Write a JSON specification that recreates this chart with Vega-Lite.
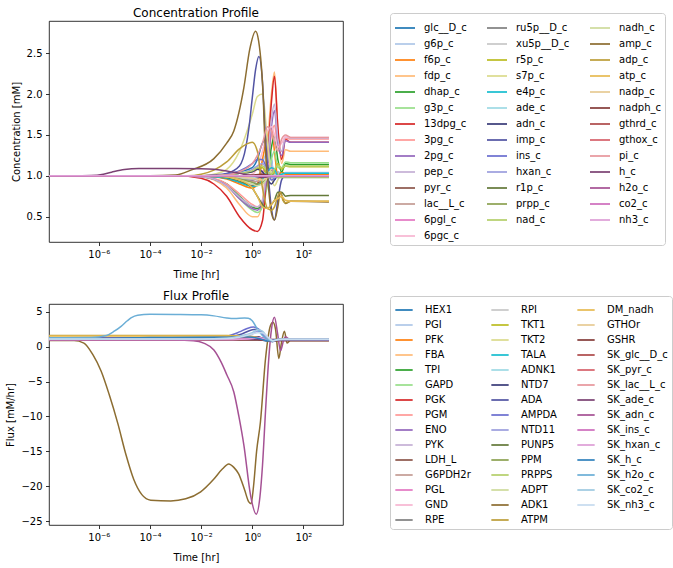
{
"$schema": "https://vega.github.io/schema/vega-lite/v6.json",
"background": "white",
"padding": {"left": 5, "top": 6, "right": 5, "bottom": 5},
"autosize": {"type": "pad"},
"config": {
  "font": "DejaVu Sans",
  "view": {"stroke": "black", "strokeWidth": 0.8},
  "axis": {"labelFont": "DejaVu Sans", "titleFont": "DejaVu Sans", "labelFontSize": 10, "titleFontSize": 10, "titleFontWeight": "normal", "labelColor": "black", "titleColor": "black", "tickColor": "black", "domain": false, "grid": false, "tickSize": 3.5, "tickWidth": 0.8, "labelPadding": 3.5, "titlePadding": 5},
  "axisX": {"titlePadding": 10},
  "title": {"font": "DejaVu Sans", "fontSize": 12, "fontWeight": "normal", "color": "black", "offset": -7},
  "legend": {"labelFont": "DejaVu Sans", "labelFontSize": 10, "labelColor": "black", "symbolType": "stroke", "symbolStrokeWidth": 2, "symbolOpacity": 0.85, "strokeColor": "#cccccc", "fillColor": "white", "cornerRadius": 3, "padding": 4, "symbolLimit": 100, "labelLimit": 0, "columnPadding": 16, "rowPadding": 0, "direction": "horizontal"}
},
"datasets": {
"conc": [
{"s":"glc__D_c","t":1.12e-8,"v":1},{"s":"glc__D_c","t":0.001,"v":1},{"s":"glc__D_c","t":0.01,"v":1},{"s":"glc__D_c","t":0.0316,"v":1},{"s":"glc__D_c","t":0.1,"v":1.02},{"s":"glc__D_c","t":0.316,"v":1.05},{"s":"glc__D_c","t":1,"v":1.1},{"s":"glc__D_c","t":1.585,"v":1.2},{"s":"glc__D_c","t":2.512,"v":1.4},{"s":"glc__D_c","t":3.981,"v":1.45},{"s":"glc__D_c","t":5.623,"v":1.2},{"s":"glc__D_c","t":7.413,"v":0.95},{"s":"glc__D_c","t":10,"v":1.05},{"s":"glc__D_c","t":14.13,"v":1},{"s":"glc__D_c","t":19.95,"v":1.03},{"s":"glc__D_c","t":31.62,"v":1.03},{"s":"glc__D_c","t":1000,"v":1.03},
{"s":"g6p_c","t":1.12e-8,"v":1},{"s":"g6p_c","t":0.001,"v":1},{"s":"g6p_c","t":0.01,"v":1},{"s":"g6p_c","t":0.0316,"v":0.99},{"s":"g6p_c","t":0.1,"v":0.97},{"s":"g6p_c","t":0.316,"v":0.93},{"s":"g6p_c","t":1,"v":0.9},{"s":"g6p_c","t":1.585,"v":0.95},{"s":"g6p_c","t":2.512,"v":1.15},{"s":"g6p_c","t":3.981,"v":1.3},{"s":"g6p_c","t":5.623,"v":1.2},{"s":"g6p_c","t":7.413,"v":1},{"s":"g6p_c","t":10,"v":1.05},{"s":"g6p_c","t":14.13,"v":1.02},{"s":"g6p_c","t":19.95,"v":1.04},{"s":"g6p_c","t":31.62,"v":1.04},{"s":"g6p_c","t":1000,"v":1.04},
{"s":"f6p_c","t":1.12e-8,"v":1},{"s":"f6p_c","t":0.001,"v":1},{"s":"f6p_c","t":0.01,"v":1},{"s":"f6p_c","t":0.0316,"v":0.99},{"s":"f6p_c","t":0.1,"v":0.96},{"s":"f6p_c","t":0.316,"v":0.9},{"s":"f6p_c","t":1,"v":0.85},{"s":"f6p_c","t":1.585,"v":0.9},{"s":"f6p_c","t":2.512,"v":1.2},{"s":"f6p_c","t":3.981,"v":1.5},{"s":"f6p_c","t":5.623,"v":1.6},{"s":"f6p_c","t":7.413,"v":1.3},{"s":"f6p_c","t":10,"v":1},{"s":"f6p_c","t":14.13,"v":1.05},{"s":"f6p_c","t":19.95,"v":1.02},{"s":"f6p_c","t":31.62,"v":1.02},{"s":"f6p_c","t":1000,"v":1.02},
{"s":"fdp_c","t":1.12e-8,"v":1},{"s":"fdp_c","t":0.001,"v":1},{"s":"fdp_c","t":0.01,"v":0.99},{"s":"fdp_c","t":0.0316,"v":0.95},{"s":"fdp_c","t":0.1,"v":0.85},{"s":"fdp_c","t":0.316,"v":0.65},{"s":"fdp_c","t":1,"v":0.5},{"s":"fdp_c","t":1.585,"v":0.5},{"s":"fdp_c","t":2.512,"v":0.7},{"s":"fdp_c","t":3.981,"v":1.4},{"s":"fdp_c","t":5.623,"v":2},{"s":"fdp_c","t":7.413,"v":2.27},{"s":"fdp_c","t":10,"v":1.6},{"s":"fdp_c","t":14.13,"v":1.15},{"s":"fdp_c","t":19.95,"v":1.32},{"s":"fdp_c","t":31.62,"v":1.3},{"s":"fdp_c","t":1000,"v":1.3},
{"s":"dhap_c","t":1.12e-8,"v":1},{"s":"dhap_c","t":0.001,"v":1},{"s":"dhap_c","t":0.01,"v":0.99},{"s":"dhap_c","t":0.0316,"v":0.96},{"s":"dhap_c","t":0.1,"v":0.9},{"s":"dhap_c","t":0.316,"v":0.75},{"s":"dhap_c","t":1,"v":0.62},{"s":"dhap_c","t":1.585,"v":0.6},{"s":"dhap_c","t":2.512,"v":0.68},{"s":"dhap_c","t":3.981,"v":1},{"s":"dhap_c","t":5.623,"v":1.35},{"s":"dhap_c","t":7.413,"v":1.49},{"s":"dhap_c","t":10,"v":1.2},{"s":"dhap_c","t":14.13,"v":1.05},{"s":"dhap_c","t":19.95,"v":1.15},{"s":"dhap_c","t":31.62,"v":1.14},{"s":"dhap_c","t":1000,"v":1.14},
{"s":"g3p_c","t":1.12e-8,"v":1},{"s":"g3p_c","t":0.001,"v":1},{"s":"g3p_c","t":0.01,"v":0.99},{"s":"g3p_c","t":0.0316,"v":0.96},{"s":"g3p_c","t":0.1,"v":0.88},{"s":"g3p_c","t":0.316,"v":0.72},{"s":"g3p_c","t":1,"v":0.58},{"s":"g3p_c","t":1.585,"v":0.55},{"s":"g3p_c","t":2.512,"v":0.62},{"s":"g3p_c","t":3.981,"v":0.9},{"s":"g3p_c","t":5.623,"v":1.2},{"s":"g3p_c","t":7.413,"v":1.3},{"s":"g3p_c","t":10,"v":1.1},{"s":"g3p_c","t":14.13,"v":1.1},{"s":"g3p_c","t":19.95,"v":1.17},{"s":"g3p_c","t":31.62,"v":1.16},{"s":"g3p_c","t":1000,"v":1.16},
{"s":"13dpg_c","t":1.12e-8,"v":1},{"s":"13dpg_c","t":0.001,"v":1},{"s":"13dpg_c","t":0.01,"v":0.97},{"s":"13dpg_c","t":0.0316,"v":0.9},{"s":"13dpg_c","t":0.1,"v":0.75},{"s":"13dpg_c","t":0.316,"v":0.5},{"s":"13dpg_c","t":1,"v":0.34},{"s":"13dpg_c","t":1.585,"v":0.32},{"s":"13dpg_c","t":2.512,"v":0.45},{"s":"13dpg_c","t":3.981,"v":1.2},{"s":"13dpg_c","t":5.623,"v":1.9},{"s":"13dpg_c","t":7.413,"v":2.22},{"s":"13dpg_c","t":10,"v":1.6},{"s":"13dpg_c","t":14.13,"v":1.2},{"s":"13dpg_c","t":19.95,"v":1.45},{"s":"13dpg_c","t":31.62,"v":1.41},{"s":"13dpg_c","t":1000,"v":1.41},
{"s":"3pg_c","t":1.12e-8,"v":1},{"s":"3pg_c","t":0.001,"v":1},{"s":"3pg_c","t":0.01,"v":0.99},{"s":"3pg_c","t":0.0316,"v":0.97},{"s":"3pg_c","t":0.1,"v":0.9},{"s":"3pg_c","t":0.316,"v":0.78},{"s":"3pg_c","t":1,"v":0.65},{"s":"3pg_c","t":1.585,"v":0.62},{"s":"3pg_c","t":2.512,"v":0.7},{"s":"3pg_c","t":3.981,"v":1.1},{"s":"3pg_c","t":5.623,"v":1.5},{"s":"3pg_c","t":7.413,"v":1.62},{"s":"3pg_c","t":10,"v":1.35},{"s":"3pg_c","t":14.13,"v":1.3},{"s":"3pg_c","t":19.95,"v":1.46},{"s":"3pg_c","t":31.62,"v":1.45},{"s":"3pg_c","t":1000,"v":1.45},
{"s":"2pg_c","t":1.12e-8,"v":1},{"s":"2pg_c","t":0.001,"v":1},{"s":"2pg_c","t":0.01,"v":0.99},{"s":"2pg_c","t":0.0316,"v":0.96},{"s":"2pg_c","t":0.1,"v":0.88},{"s":"2pg_c","t":0.316,"v":0.72},{"s":"2pg_c","t":1,"v":0.6},{"s":"2pg_c","t":1.585,"v":0.58},{"s":"2pg_c","t":2.512,"v":0.66},{"s":"2pg_c","t":3.981,"v":1.1},{"s":"2pg_c","t":5.623,"v":1.6},{"s":"2pg_c","t":7.413,"v":1.8},{"s":"2pg_c","t":10,"v":1.4},{"s":"2pg_c","t":14.13,"v":1.25},{"s":"2pg_c","t":19.95,"v":1.43},{"s":"2pg_c","t":31.62,"v":1.41},{"s":"2pg_c","t":1000,"v":1.41},
{"s":"pep_c","t":1.12e-8,"v":1},{"s":"pep_c","t":0.001,"v":1},{"s":"pep_c","t":0.01,"v":0.99},{"s":"pep_c","t":0.0316,"v":0.96},{"s":"pep_c","t":0.1,"v":0.88},{"s":"pep_c","t":0.316,"v":0.74},{"s":"pep_c","t":1,"v":0.63},{"s":"pep_c","t":1.585,"v":0.62},{"s":"pep_c","t":2.512,"v":0.7},{"s":"pep_c","t":3.981,"v":1.2},{"s":"pep_c","t":5.623,"v":1.7},{"s":"pep_c","t":7.413,"v":1.88},{"s":"pep_c","t":10,"v":1.45},{"s":"pep_c","t":14.13,"v":1.3},{"s":"pep_c","t":19.95,"v":1.48},{"s":"pep_c","t":31.62,"v":1.46},{"s":"pep_c","t":1000,"v":1.46},
{"s":"pyr_c","t":1.12e-8,"v":1},{"s":"pyr_c","t":0.001,"v":1},{"s":"pyr_c","t":0.01,"v":1},{"s":"pyr_c","t":0.0316,"v":0.99},{"s":"pyr_c","t":0.1,"v":0.97},{"s":"pyr_c","t":0.316,"v":0.92},{"s":"pyr_c","t":1,"v":0.88},{"s":"pyr_c","t":1.585,"v":0.9},{"s":"pyr_c","t":2.512,"v":0.98},{"s":"pyr_c","t":3.981,"v":1.1},{"s":"pyr_c","t":5.623,"v":1.05},{"s":"pyr_c","t":7.413,"v":1},{"s":"pyr_c","t":10,"v":0.98},{"s":"pyr_c","t":14.13,"v":1},{"s":"pyr_c","t":1000,"v":1},
{"s":"lac__L_c","t":1.12e-8,"v":1},{"s":"lac__L_c","t":0.001,"v":1},{"s":"lac__L_c","t":0.01,"v":1},{"s":"lac__L_c","t":0.0316,"v":0.99},{"s":"lac__L_c","t":0.1,"v":0.98},{"s":"lac__L_c","t":0.316,"v":0.95},{"s":"lac__L_c","t":1,"v":0.93},{"s":"lac__L_c","t":1.585,"v":0.93},{"s":"lac__L_c","t":2.512,"v":0.96},{"s":"lac__L_c","t":3.981,"v":1.02},{"s":"lac__L_c","t":5.623,"v":1.05},{"s":"lac__L_c","t":7.413,"v":1.03},{"s":"lac__L_c","t":10,"v":1},{"s":"lac__L_c","t":1000,"v":1},
{"s":"6pgl_c","t":1.12e-8,"v":1},{"s":"6pgl_c","t":0.01,"v":1},{"s":"6pgl_c","t":0.1,"v":0.99},{"s":"6pgl_c","t":0.316,"v":0.97},{"s":"6pgl_c","t":1,"v":0.95},{"s":"6pgl_c","t":1.585,"v":0.97},{"s":"6pgl_c","t":2.512,"v":1.05},{"s":"6pgl_c","t":3.981,"v":1.15},{"s":"6pgl_c","t":5.623,"v":1.1},{"s":"6pgl_c","t":7.413,"v":1.02},{"s":"6pgl_c","t":10,"v":1},{"s":"6pgl_c","t":1000,"v":1},
{"s":"6pgc_c","t":1.12e-8,"v":1},{"s":"6pgc_c","t":0.01,"v":1},{"s":"6pgc_c","t":0.316,"v":1},{"s":"6pgc_c","t":1,"v":1.02},{"s":"6pgc_c","t":1.585,"v":1.1},{"s":"6pgc_c","t":2.512,"v":1.3},{"s":"6pgc_c","t":3.981,"v":1.55},{"s":"6pgc_c","t":5.623,"v":1.6},{"s":"6pgc_c","t":7.413,"v":1.5},{"s":"6pgc_c","t":10,"v":1.35},{"s":"6pgc_c","t":14.13,"v":1.4},{"s":"6pgc_c","t":19.95,"v":1.48},{"s":"6pgc_c","t":31.62,"v":1.47},{"s":"6pgc_c","t":1000,"v":1.47},
{"s":"ru5p__D_c","t":1.12e-8,"v":1},{"s":"ru5p__D_c","t":0.01,"v":1},{"s":"ru5p__D_c","t":0.1,"v":0.99},{"s":"ru5p__D_c","t":0.316,"v":0.97},{"s":"ru5p__D_c","t":1,"v":0.95},{"s":"ru5p__D_c","t":1.585,"v":0.97},{"s":"ru5p__D_c","t":2.512,"v":1.02},{"s":"ru5p__D_c","t":3.981,"v":1.08},{"s":"ru5p__D_c","t":5.623,"v":1.06},{"s":"ru5p__D_c","t":7.413,"v":1.02},{"s":"ru5p__D_c","t":10,"v":1},{"s":"ru5p__D_c","t":1000,"v":1},
{"s":"xu5p__D_c","t":1.12e-8,"v":1},{"s":"xu5p__D_c","t":0.01,"v":1},{"s":"xu5p__D_c","t":0.1,"v":0.99},{"s":"xu5p__D_c","t":0.316,"v":0.97},{"s":"xu5p__D_c","t":1,"v":0.96},{"s":"xu5p__D_c","t":1.585,"v":0.98},{"s":"xu5p__D_c","t":2.512,"v":1.02},{"s":"xu5p__D_c","t":3.981,"v":1.06},{"s":"xu5p__D_c","t":5.623,"v":1.05},{"s":"xu5p__D_c","t":7.413,"v":1.02},{"s":"xu5p__D_c","t":10,"v":1},{"s":"xu5p__D_c","t":1000,"v":1},
{"s":"r5p_c","t":1.12e-8,"v":1},{"s":"r5p_c","t":0.01,"v":1},{"s":"r5p_c","t":0.1,"v":1.01},{"s":"r5p_c","t":0.316,"v":1.03},{"s":"r5p_c","t":1,"v":1.05},{"s":"r5p_c","t":1.585,"v":1.08},{"s":"r5p_c","t":2.512,"v":1.1},{"s":"r5p_c","t":3.981,"v":1},{"s":"r5p_c","t":5.623,"v":0.98},{"s":"r5p_c","t":7.413,"v":1.05},{"s":"r5p_c","t":10,"v":1.15},{"s":"r5p_c","t":14.13,"v":1.08},{"s":"r5p_c","t":19.95,"v":1.12},{"s":"r5p_c","t":31.62,"v":1.11},{"s":"r5p_c","t":1000,"v":1.11},
{"s":"s7p_c","t":1.12e-8,"v":1},{"s":"s7p_c","t":0.001,"v":1},{"s":"s7p_c","t":0.01,"v":1},{"s":"s7p_c","t":0.0316,"v":1.02},{"s":"s7p_c","t":0.1,"v":1.08},{"s":"s7p_c","t":0.316,"v":1.3},{"s":"s7p_c","t":1,"v":1.75},{"s":"s7p_c","t":1.585,"v":1.97},{"s":"s7p_c","t":2.512,"v":2},{"s":"s7p_c","t":3.981,"v":1.4},{"s":"s7p_c","t":5.623,"v":1},{"s":"s7p_c","t":7.413,"v":0.88},{"s":"s7p_c","t":10,"v":0.95},{"s":"s7p_c","t":14.13,"v":1.02},{"s":"s7p_c","t":19.95,"v":1},{"s":"s7p_c","t":1000,"v":1},
{"s":"e4p_c","t":1.12e-8,"v":1},{"s":"e4p_c","t":0.01,"v":1},{"s":"e4p_c","t":0.0316,"v":0.99},{"s":"e4p_c","t":0.1,"v":0.97},{"s":"e4p_c","t":0.316,"v":0.92},{"s":"e4p_c","t":1,"v":0.87},{"s":"e4p_c","t":1.585,"v":0.88},{"s":"e4p_c","t":2.512,"v":0.95},{"s":"e4p_c","t":3.981,"v":1.05},{"s":"e4p_c","t":5.623,"v":1.1},{"s":"e4p_c","t":7.413,"v":1.08},{"s":"e4p_c","t":10,"v":1},{"s":"e4p_c","t":14.13,"v":1.02},{"s":"e4p_c","t":19.95,"v":1.03},{"s":"e4p_c","t":1000,"v":1.03},
{"s":"ade_c","t":1.12e-8,"v":1},{"s":"ade_c","t":0.1,"v":1},{"s":"ade_c","t":0.316,"v":0.99},{"s":"ade_c","t":1,"v":0.98},{"s":"ade_c","t":2.512,"v":1},{"s":"ade_c","t":3.981,"v":1.02},{"s":"ade_c","t":7.413,"v":1.01},{"s":"ade_c","t":10,"v":1},{"s":"ade_c","t":1000,"v":1},
{"s":"adn_c","t":1.12e-8,"v":1},{"s":"adn_c","t":0.0316,"v":1},{"s":"adn_c","t":0.1,"v":1.01},{"s":"adn_c","t":0.316,"v":1.03},{"s":"adn_c","t":1,"v":1.05},{"s":"adn_c","t":1.585,"v":1.08},{"s":"adn_c","t":2.512,"v":1.05},{"s":"adn_c","t":3.981,"v":0.95},{"s":"adn_c","t":5.623,"v":0.9},{"s":"adn_c","t":7.413,"v":0.95},{"s":"adn_c","t":10,"v":1},{"s":"adn_c","t":1000,"v":1},
{"s":"imp_c","t":1.12e-8,"v":1},{"s":"imp_c","t":0.001,"v":1},{"s":"imp_c","t":0.01,"v":1},{"s":"imp_c","t":0.0316,"v":1.01},{"s":"imp_c","t":0.1,"v":1.03},{"s":"imp_c","t":0.316,"v":1.12},{"s":"imp_c","t":0.562,"v":1.35},{"s":"imp_c","t":0.75,"v":1.6},{"s":"imp_c","t":1,"v":1.95},{"s":"imp_c","t":1.35,"v":2.3},{"s":"imp_c","t":1.82,"v":2.46},{"s":"imp_c","t":2.512,"v":2.15},{"s":"imp_c","t":3.162,"v":1.55},{"s":"imp_c","t":4.365,"v":0.95},{"s":"imp_c","t":5.623,"v":0.6},{"s":"imp_c","t":7.413,"v":0.46},{"s":"imp_c","t":10,"v":0.7},{"s":"imp_c","t":14.13,"v":0.95},{"s":"imp_c","t":19.95,"v":1},{"s":"imp_c","t":1000,"v":1},
{"s":"ins_c","t":1.12e-8,"v":1},{"s":"ins_c","t":0.0316,"v":1},{"s":"ins_c","t":0.1,"v":1.02},{"s":"ins_c","t":0.316,"v":1.06},{"s":"ins_c","t":1,"v":1.15},{"s":"ins_c","t":1.585,"v":1.2},{"s":"ins_c","t":2.512,"v":1.2},{"s":"ins_c","t":3.981,"v":1.05},{"s":"ins_c","t":5.623,"v":0.95},{"s":"ins_c","t":7.413,"v":0.97},{"s":"ins_c","t":10,"v":1},{"s":"ins_c","t":1000,"v":1},
{"s":"hxan_c","t":1.12e-8,"v":1},{"s":"hxan_c","t":0.0316,"v":1},{"s":"hxan_c","t":0.1,"v":1.01},{"s":"hxan_c","t":0.316,"v":1.03},{"s":"hxan_c","t":1,"v":1.08},{"s":"hxan_c","t":1.585,"v":1.12},{"s":"hxan_c","t":2.512,"v":1.15},{"s":"hxan_c","t":3.981,"v":1.05},{"s":"hxan_c","t":5.623,"v":0.98},{"s":"hxan_c","t":7.413,"v":0.98},{"s":"hxan_c","t":10,"v":1},{"s":"hxan_c","t":1000,"v":1},
{"s":"r1p_c","t":1.12e-8,"v":1},{"s":"r1p_c","t":0.01,"v":1},{"s":"r1p_c","t":0.0316,"v":1},{"s":"r1p_c","t":0.1,"v":0.98},{"s":"r1p_c","t":0.316,"v":0.94},{"s":"r1p_c","t":1,"v":0.85},{"s":"r1p_c","t":1.585,"v":0.75},{"s":"r1p_c","t":2.512,"v":0.65},{"s":"r1p_c","t":3.981,"v":0.6},{"s":"r1p_c","t":5.623,"v":0.65},{"s":"r1p_c","t":7.413,"v":0.7},{"s":"r1p_c","t":10,"v":0.8},{"s":"r1p_c","t":14.13,"v":0.8},{"s":"r1p_c","t":19.95,"v":0.75},{"s":"r1p_c","t":31.62,"v":0.76},{"s":"r1p_c","t":1000,"v":0.76},
{"s":"prpp_c","t":1.12e-8,"v":1},{"s":"prpp_c","t":0.0316,"v":1},{"s":"prpp_c","t":0.1,"v":0.99},{"s":"prpp_c","t":0.316,"v":0.96},{"s":"prpp_c","t":1,"v":0.92},{"s":"prpp_c","t":1.585,"v":0.9},{"s":"prpp_c","t":2.512,"v":0.92},{"s":"prpp_c","t":3.981,"v":0.98},{"s":"prpp_c","t":5.623,"v":1.02},{"s":"prpp_c","t":7.413,"v":1},{"s":"prpp_c","t":10,"v":0.98},{"s":"prpp_c","t":1000,"v":0.98},
{"s":"nad_c","t":1.12e-8,"v":1},{"s":"nad_c","t":0.0316,"v":1},{"s":"nad_c","t":0.1,"v":1.01},{"s":"nad_c","t":0.316,"v":1.03},{"s":"nad_c","t":1,"v":1.06},{"s":"nad_c","t":1.585,"v":1.1},{"s":"nad_c","t":2.512,"v":1.12},{"s":"nad_c","t":3.981,"v":1.05},{"s":"nad_c","t":5.623,"v":1.02},{"s":"nad_c","t":7.413,"v":1.08},{"s":"nad_c","t":10,"v":1.13},{"s":"nad_c","t":14.13,"v":1.1},{"s":"nad_c","t":19.95,"v":1.12},{"s":"nad_c","t":1000,"v":1.12},
{"s":"nadh_c","t":1.12e-8,"v":1},{"s":"nadh_c","t":0.0316,"v":1},{"s":"nadh_c","t":0.1,"v":0.99},{"s":"nadh_c","t":0.316,"v":0.95},{"s":"nadh_c","t":1,"v":0.9},{"s":"nadh_c","t":1.585,"v":0.88},{"s":"nadh_c","t":2.512,"v":0.9},{"s":"nadh_c","t":3.981,"v":0.97},{"s":"nadh_c","t":5.623,"v":1},{"s":"nadh_c","t":10,"v":0.99},{"s":"nadh_c","t":1000,"v":0.99},
{"s":"amp_c","t":1.12e-8,"v":1},{"s":"amp_c","t":0.0001,"v":1},{"s":"amp_c","t":0.001,"v":1.01},{"s":"amp_c","t":0.004,"v":1.07},{"s":"amp_c","t":0.0316,"v":1.21},{"s":"amp_c","t":0.1,"v":1.4},{"s":"amp_c","t":0.19,"v":1.55},{"s":"amp_c","t":0.47,"v":2.08},{"s":"amp_c","t":0.8,"v":2.55},{"s":"amp_c","t":1.35,"v":2.77},{"s":"amp_c","t":1.78,"v":2.65},{"s":"amp_c","t":2.75,"v":1.88},{"s":"amp_c","t":3.0,"v":1.55},{"s":"amp_c","t":4.2,"v":0.9},{"s":"amp_c","t":5.6,"v":0.55},{"s":"amp_c","t":7.4,"v":0.46},{"s":"amp_c","t":10,"v":0.62},{"s":"amp_c","t":12.6,"v":0.8},{"s":"amp_c","t":15.8,"v":0.72},{"s":"amp_c","t":20,"v":0.66},{"s":"amp_c","t":31.62,"v":0.69},{"s":"amp_c","t":1000,"v":0.68},
{"s":"adp_c","t":1.12e-8,"v":1},{"s":"adp_c","t":0.003,"v":1},{"s":"adp_c","t":0.01,"v":1.02},{"s":"adp_c","t":0.0316,"v":1.07},{"s":"adp_c","t":0.1,"v":1.17},{"s":"adp_c","t":0.316,"v":1.33},{"s":"adp_c","t":1,"v":1.41},{"s":"adp_c","t":1.585,"v":1.3},{"s":"adp_c","t":2.512,"v":0.85},{"s":"adp_c","t":3.981,"v":0.6},{"s":"adp_c","t":5.623,"v":0.58},{"s":"adp_c","t":7.413,"v":0.62},{"s":"adp_c","t":10,"v":0.75},{"s":"adp_c","t":12.6,"v":0.8},{"s":"adp_c","t":15.8,"v":0.7},{"s":"adp_c","t":19.95,"v":0.67},{"s":"adp_c","t":31.62,"v":0.69},{"s":"adp_c","t":1000,"v":0.69},
{"s":"atp_c","t":1.12e-8,"v":1},{"s":"atp_c","t":0.01,"v":1},{"s":"atp_c","t":0.1,"v":0.99},{"s":"atp_c","t":0.316,"v":0.95},{"s":"atp_c","t":1,"v":0.85},{"s":"atp_c","t":1.585,"v":0.75},{"s":"atp_c","t":2.512,"v":0.62},{"s":"atp_c","t":3.981,"v":0.6},{"s":"atp_c","t":5.623,"v":0.65},{"s":"atp_c","t":7.413,"v":0.7},{"s":"atp_c","t":10,"v":0.72},{"s":"atp_c","t":14.13,"v":0.75},{"s":"atp_c","t":19.95,"v":0.7},{"s":"atp_c","t":31.62,"v":0.69},{"s":"atp_c","t":1000,"v":0.69},
{"s":"nadp_c","t":1.12e-8,"v":1},{"s":"nadp_c","t":0.1,"v":1},{"s":"nadp_c","t":0.316,"v":0.99},{"s":"nadp_c","t":1,"v":0.97},{"s":"nadp_c","t":2.512,"v":0.95},{"s":"nadp_c","t":3.981,"v":0.98},{"s":"nadp_c","t":5.623,"v":1},{"s":"nadp_c","t":1000,"v":1},
{"s":"nadph_c","t":1.12e-8,"v":1},{"s":"nadph_c","t":0.316,"v":1},{"s":"nadph_c","t":1,"v":1.01},{"s":"nadph_c","t":2.512,"v":1.02},{"s":"nadph_c","t":5.623,"v":1},{"s":"nadph_c","t":1000,"v":1},
{"s":"gthrd_c","t":1.12e-8,"v":1},{"s":"gthrd_c","t":1000,"v":1},
{"s":"gthox_c","t":1.12e-8,"v":1},{"s":"gthox_c","t":1000,"v":1},
{"s":"pi_c","t":1.12e-8,"v":1},{"s":"pi_c","t":0.01,"v":1},{"s":"pi_c","t":0.1,"v":1.01},{"s":"pi_c","t":0.316,"v":1.05},{"s":"pi_c","t":1,"v":1.15},{"s":"pi_c","t":1.585,"v":1.25},{"s":"pi_c","t":2.512,"v":1.4},{"s":"pi_c","t":3.981,"v":1.6},{"s":"pi_c","t":5.623,"v":1.55},{"s":"pi_c","t":7.413,"v":1.4},{"s":"pi_c","t":10,"v":1.3},{"s":"pi_c","t":14.13,"v":1.45},{"s":"pi_c","t":19.95,"v":1.5},{"s":"pi_c","t":31.62,"v":1.47},{"s":"pi_c","t":1000,"v":1.47},
{"s":"h_c","t":1.12e-8,"v":1},{"s":"h_c","t":1e-7,"v":1},{"s":"h_c","t":5e-7,"v":1.003},{"s":"h_c","t":1.5e-6,"v":1.02},{"s":"h_c","t":3.16e-6,"v":1.045},{"s":"h_c","t":1e-5,"v":1.078},{"s":"h_c","t":3.7e-5,"v":1.09},{"s":"h_c","t":0.001,"v":1.09},{"s":"h_c","t":0.01,"v":1.087},{"s":"h_c","t":0.0316,"v":1.08},{"s":"h_c","t":0.1,"v":1.06},{"s":"h_c","t":0.316,"v":1.03},{"s":"h_c","t":1,"v":1},{"s":"h_c","t":1.585,"v":0.99},{"s":"h_c","t":2.512,"v":0.98},{"s":"h_c","t":3.981,"v":0.99},{"s":"h_c","t":10,"v":1},{"s":"h_c","t":1000,"v":1},
{"s":"h2o_c","t":1.12e-8,"v":1},{"s":"h2o_c","t":1000,"v":1},
{"s":"co2_c","t":1.12e-8,"v":1},{"s":"co2_c","t":1000,"v":1},
{"s":"nh3_c","t":1.12e-8,"v":1},{"s":"nh3_c","t":1000,"v":1}
],
"flux": [
{"s":"HEX1","t":1.12e-8,"v":1.15},{"s":"HEX1","t":0.01,"v":1.15},{"s":"HEX1","t":0.1,"v":1.17},{"s":"HEX1","t":0.316,"v":1.2},{"s":"HEX1","t":1,"v":1.3},{"s":"HEX1","t":1.585,"v":1.25},{"s":"HEX1","t":2.512,"v":1.1},{"s":"HEX1","t":3.981,"v":0.95},{"s":"HEX1","t":6.31,"v":0.95},{"s":"HEX1","t":10,"v":1},{"s":"HEX1","t":1000,"v":1},
{"s":"PGI","t":1.12e-8,"v":1.1},{"s":"PGI","t":0.1,"v":1.1},{"s":"PGI","t":0.316,"v":1.12},{"s":"PGI","t":1,"v":1.2},{"s":"PGI","t":1.585,"v":1.2},{"s":"PGI","t":2.512,"v":1.1},{"s":"PGI","t":3.981,"v":0.95},{"s":"PGI","t":6.31,"v":0.95},{"s":"PGI","t":10,"v":1},{"s":"PGI","t":1000,"v":1},
{"s":"PFK","t":1.12e-8,"v":1.12},{"s":"PFK","t":0.1,"v":1.13},{"s":"PFK","t":0.316,"v":1.15},{"s":"PFK","t":1,"v":1.25},{"s":"PFK","t":1.585,"v":1.3},{"s":"PFK","t":2.512,"v":1.15},{"s":"PFK","t":3.981,"v":0.9},{"s":"PFK","t":6.31,"v":0.9},{"s":"PFK","t":10,"v":1.05},{"s":"PFK","t":15.85,"v":1},{"s":"PFK","t":1000,"v":1},
{"s":"FBA","t":1.12e-8,"v":1.12},{"s":"FBA","t":0.1,"v":1.13},{"s":"FBA","t":0.316,"v":1.15},{"s":"FBA","t":1,"v":1.25},{"s":"FBA","t":1.585,"v":1.3},{"s":"FBA","t":2.512,"v":1.15},{"s":"FBA","t":3.981,"v":0.9},{"s":"FBA","t":6.31,"v":0.9},{"s":"FBA","t":10,"v":1.05},{"s":"FBA","t":15.85,"v":1},{"s":"FBA","t":1000,"v":1},
{"s":"TPI","t":1.12e-8,"v":1.1},{"s":"TPI","t":0.316,"v":1.1},{"s":"TPI","t":1,"v":1.15},{"s":"TPI","t":1.585,"v":1.2},{"s":"TPI","t":2.512,"v":1.1},{"s":"TPI","t":3.981,"v":0.9},{"s":"TPI","t":6.31,"v":0.95},{"s":"TPI","t":10,"v":1.05},{"s":"TPI","t":15.85,"v":1},{"s":"TPI","t":1000,"v":1},
{"s":"GAPD","t":1.12e-8,"v":1.15},{"s":"GAPD","t":0.1,"v":1.15},{"s":"GAPD","t":0.316,"v":1.2},{"s":"GAPD","t":1,"v":1.3},{"s":"GAPD","t":1.585,"v":1.35},{"s":"GAPD","t":2.512,"v":1.2},{"s":"GAPD","t":3.981,"v":0.9},{"s":"GAPD","t":6.31,"v":0.85},{"s":"GAPD","t":10,"v":1},{"s":"GAPD","t":1000,"v":1},
{"s":"PGK","t":1.12e-8,"v":1.15},{"s":"PGK","t":0.1,"v":1.15},{"s":"PGK","t":0.316,"v":1.2},{"s":"PGK","t":1,"v":1.3},{"s":"PGK","t":1.585,"v":1.35},{"s":"PGK","t":2.512,"v":1.2},{"s":"PGK","t":3.981,"v":0.9},{"s":"PGK","t":6.31,"v":0.85},{"s":"PGK","t":10,"v":1},{"s":"PGK","t":1000,"v":1},
{"s":"PGM","t":1.12e-8,"v":1.15},{"s":"PGM","t":0.1,"v":1.15},{"s":"PGM","t":0.316,"v":1.18},{"s":"PGM","t":1,"v":1.28},{"s":"PGM","t":1.585,"v":1.32},{"s":"PGM","t":2.512,"v":1.18},{"s":"PGM","t":3.981,"v":0.9},{"s":"PGM","t":6.31,"v":0.85},{"s":"PGM","t":10,"v":1},{"s":"PGM","t":1000,"v":1},
{"s":"ENO","t":1.12e-8,"v":1.15},{"s":"ENO","t":0.1,"v":1.15},{"s":"ENO","t":0.316,"v":1.18},{"s":"ENO","t":1,"v":1.28},{"s":"ENO","t":1.585,"v":1.32},{"s":"ENO","t":2.512,"v":1.18},{"s":"ENO","t":3.981,"v":0.9},{"s":"ENO","t":6.31,"v":0.85},{"s":"ENO","t":10,"v":1},{"s":"ENO","t":1000,"v":1},
{"s":"PYK","t":1.12e-8,"v":1.15},{"s":"PYK","t":0.1,"v":1.15},{"s":"PYK","t":0.316,"v":1.18},{"s":"PYK","t":1,"v":1.25},{"s":"PYK","t":1.585,"v":1.3},{"s":"PYK","t":2.512,"v":1.15},{"s":"PYK","t":3.981,"v":0.9},{"s":"PYK","t":6.31,"v":0.85},{"s":"PYK","t":10,"v":1},{"s":"PYK","t":1000,"v":1},
{"s":"LDH_L","t":1.12e-8,"v":1.1},{"s":"LDH_L","t":0.1,"v":1.1},{"s":"LDH_L","t":0.316,"v":1.12},{"s":"LDH_L","t":1,"v":1.2},{"s":"LDH_L","t":1.585,"v":1.25},{"s":"LDH_L","t":2.512,"v":1.1},{"s":"LDH_L","t":3.981,"v":0.9},{"s":"LDH_L","t":6.31,"v":0.85},{"s":"LDH_L","t":10,"v":1},{"s":"LDH_L","t":1000,"v":1},
{"s":"G6PDH2r","t":1.12e-8,"v":1.05},{"s":"G6PDH2r","t":1.585,"v":1.05},{"s":"G6PDH2r","t":2.512,"v":1},{"s":"G6PDH2r","t":3.981,"v":0.95},{"s":"G6PDH2r","t":6.31,"v":0.95},{"s":"G6PDH2r","t":10,"v":1},{"s":"G6PDH2r","t":1000,"v":1},
{"s":"PGL","t":1.12e-8,"v":1.05},{"s":"PGL","t":1.585,"v":1.05},{"s":"PGL","t":2.512,"v":1},{"s":"PGL","t":3.981,"v":0.95},{"s":"PGL","t":6.31,"v":0.95},{"s":"PGL","t":10,"v":1},{"s":"PGL","t":1000,"v":1},
{"s":"GND","t":1.12e-8,"v":1.05},{"s":"GND","t":1.585,"v":1.05},{"s":"GND","t":2.512,"v":1},{"s":"GND","t":3.981,"v":0.95},{"s":"GND","t":6.31,"v":0.95},{"s":"GND","t":10,"v":1},{"s":"GND","t":1000,"v":1},
{"s":"RPE","t":1.12e-8,"v":1},{"s":"RPE","t":0.316,"v":1},{"s":"RPE","t":1,"v":1.02},{"s":"RPE","t":1.585,"v":1.02},{"s":"RPE","t":2.512,"v":1},{"s":"RPE","t":3.981,"v":0.95},{"s":"RPE","t":6.31,"v":0.95},{"s":"RPE","t":10,"v":1},{"s":"RPE","t":1000,"v":1},
{"s":"RPI","t":1.12e-8,"v":1.02},{"s":"RPI","t":0.316,"v":1.02},{"s":"RPI","t":1,"v":1.03},{"s":"RPI","t":1.585,"v":1.03},{"s":"RPI","t":2.512,"v":1},{"s":"RPI","t":3.981,"v":0.95},{"s":"RPI","t":6.31,"v":0.95},{"s":"RPI","t":10,"v":1},{"s":"RPI","t":1000,"v":1},
{"s":"TKT1","t":1.12e-8,"v":1},{"s":"TKT1","t":0.316,"v":1},{"s":"TKT1","t":1,"v":1.02},{"s":"TKT1","t":1.585,"v":1.02},{"s":"TKT1","t":2.512,"v":1},{"s":"TKT1","t":3.981,"v":0.95},{"s":"TKT1","t":6.31,"v":0.95},{"s":"TKT1","t":10,"v":1},{"s":"TKT1","t":1000,"v":1},
{"s":"TKT2","t":1.12e-8,"v":1},{"s":"TKT2","t":0.316,"v":1},{"s":"TKT2","t":1,"v":1.02},{"s":"TKT2","t":1.585,"v":1.02},{"s":"TKT2","t":2.512,"v":1},{"s":"TKT2","t":3.981,"v":0.95},{"s":"TKT2","t":6.31,"v":0.95},{"s":"TKT2","t":10,"v":1},{"s":"TKT2","t":1000,"v":1},
{"s":"TALA","t":1.12e-8,"v":1},{"s":"TALA","t":0.316,"v":1},{"s":"TALA","t":1,"v":1.02},{"s":"TALA","t":1.585,"v":1.02},{"s":"TALA","t":2.512,"v":1},{"s":"TALA","t":3.981,"v":0.95},{"s":"TALA","t":6.31,"v":0.95},{"s":"TALA","t":10,"v":1},{"s":"TALA","t":1000,"v":1},
{"s":"ADNK1","t":1.12e-8,"v":1},{"s":"ADNK1","t":0.1,"v":1},{"s":"ADNK1","t":0.316,"v":1.05},{"s":"ADNK1","t":1,"v":1.1},{"s":"ADNK1","t":1.585,"v":1},{"s":"ADNK1","t":2.512,"v":0.9},{"s":"ADNK1","t":3.981,"v":0.85},{"s":"ADNK1","t":6.31,"v":0.85},{"s":"ADNK1","t":10,"v":0.9},{"s":"ADNK1","t":1000,"v":0.9},
{"s":"NTD7","t":1.12e-8,"v":1},{"s":"NTD7","t":0.01,"v":1},{"s":"NTD7","t":0.1,"v":1.02},{"s":"NTD7","t":0.316,"v":1.1},{"s":"NTD7","t":1,"v":1.3},{"s":"NTD7","t":1.585,"v":1.4},{"s":"NTD7","t":2.512,"v":1.2},{"s":"NTD7","t":3.981,"v":0.9},{"s":"NTD7","t":6.31,"v":0.85},{"s":"NTD7","t":10,"v":0.95},{"s":"NTD7","t":1000,"v":0.95},
{"s":"ADA","t":1.12e-8,"v":1.1},{"s":"ADA","t":0.01,"v":1.12},{"s":"ADA","t":0.1,"v":1.3},{"s":"ADA","t":0.316,"v":1.7},{"s":"ADA","t":1,"v":2.4},{"s":"ADA","t":1.585,"v":2.5},{"s":"ADA","t":2.512,"v":1.8},{"s":"ADA","t":3.981,"v":1},{"s":"ADA","t":6.31,"v":0.7},{"s":"ADA","t":10,"v":1},{"s":"ADA","t":1000,"v":1},
{"s":"AMPDA","t":1.12e-8,"v":1.25},{"s":"AMPDA","t":0.01,"v":1.3},{"s":"AMPDA","t":0.1,"v":1.5},{"s":"AMPDA","t":0.316,"v":2.1},{"s":"AMPDA","t":0.631,"v":2.6},{"s":"AMPDA","t":1.122,"v":2.8},{"s":"AMPDA","t":1.778,"v":2.5},{"s":"AMPDA","t":2.512,"v":1.9},{"s":"AMPDA","t":3.981,"v":1.1},{"s":"AMPDA","t":5.623,"v":0.75},{"s":"AMPDA","t":7.943,"v":0.8},{"s":"AMPDA","t":12.6,"v":0.95},{"s":"AMPDA","t":1000,"v":0.95},
{"s":"NTD11","t":1.12e-8,"v":1.05},{"s":"NTD11","t":0.01,"v":1.05},{"s":"NTD11","t":0.1,"v":1.1},{"s":"NTD11","t":0.316,"v":1.3},{"s":"NTD11","t":1,"v":1.8},{"s":"NTD11","t":1.585,"v":2.2},{"s":"NTD11","t":2.512,"v":1.9},{"s":"NTD11","t":3.981,"v":1.1},{"s":"NTD11","t":6.31,"v":0.75},{"s":"NTD11","t":10,"v":0.95},{"s":"NTD11","t":15.85,"v":1},{"s":"NTD11","t":1000,"v":1},
{"s":"PUNP5","t":1.12e-8,"v":1},{"s":"PUNP5","t":0.1,"v":1},{"s":"PUNP5","t":0.316,"v":1.05},{"s":"PUNP5","t":1,"v":1.15},{"s":"PUNP5","t":1.585,"v":1.2},{"s":"PUNP5","t":2.512,"v":1.1},{"s":"PUNP5","t":3.981,"v":0.95},{"s":"PUNP5","t":6.31,"v":0.9},{"s":"PUNP5","t":10,"v":0.95},{"s":"PUNP5","t":1000,"v":0.95},
{"s":"PPM","t":1.12e-8,"v":1},{"s":"PPM","t":0.1,"v":1},{"s":"PPM","t":0.316,"v":1.05},{"s":"PPM","t":1,"v":1.15},{"s":"PPM","t":1.585,"v":1.2},{"s":"PPM","t":2.512,"v":1.1},{"s":"PPM","t":3.981,"v":0.95},{"s":"PPM","t":6.31,"v":0.9},{"s":"PPM","t":10,"v":0.95},{"s":"PPM","t":1000,"v":0.95},
{"s":"PRPPS","t":1.12e-8,"v":1},{"s":"PRPPS","t":1.585,"v":1},{"s":"PRPPS","t":2.512,"v":0.98},{"s":"PRPPS","t":3.981,"v":0.95},{"s":"PRPPS","t":6.31,"v":0.95},{"s":"PRPPS","t":10,"v":0.98},{"s":"PRPPS","t":1000,"v":0.98},
{"s":"ADPT","t":1.12e-8,"v":1},{"s":"ADPT","t":0.316,"v":1},{"s":"ADPT","t":1,"v":0.98},{"s":"ADPT","t":2.512,"v":0.95},{"s":"ADPT","t":6.31,"v":0.95},{"s":"ADPT","t":10,"v":0.98},{"s":"ADPT","t":1000,"v":0.98},
{"s":"ADK1","t":1.12e-8,"v":0.86},{"s":"ADK1","t":1.07e-7,"v":0.86},{"s":"ADK1","t":2.6e-7,"v":0.5},{"s":"ADK1","t":5.9e-7,"v":-1.2},{"s":"ADK1","t":1.22e-6,"v":-3.5},{"s":"ADK1","t":2.5e-6,"v":-6.8},{"s":"ADK1","t":5.5e-6,"v":-11},{"s":"ADK1","t":1.15e-5,"v":-15.5},{"s":"ADK1","t":2.3e-5,"v":-19},{"s":"ADK1","t":4.8e-5,"v":-21.2},{"s":"ADK1","t":0.000107,"v":-22},{"s":"ADK1","t":0.00065,"v":-22.1},{"s":"ADK1","t":0.0025,"v":-21.8},{"s":"ADK1","t":0.0096,"v":-20.8},{"s":"ADK1","t":0.031,"v":-19},{"s":"ADK1","t":0.069,"v":-17.5},{"s":"ADK1","t":0.12,"v":-16.8},{"s":"ADK1","t":0.19,"v":-17.3},{"s":"ADK1","t":0.29,"v":-18.2},{"s":"ADK1","t":0.5,"v":-20.5},{"s":"ADK1","t":0.72,"v":-22.2},{"s":"ADK1","t":0.9,"v":-22.5},{"s":"ADK1","t":1.122,"v":-20},{"s":"ADK1","t":1.479,"v":-15},{"s":"ADK1","t":2.089,"v":-10.8},{"s":"ADK1","t":3.311,"v":-1.7},{"s":"ADK1","t":5.129,"v":3},{"s":"ADK1","t":6.457,"v":3.5},{"s":"ADK1","t":8.128,"v":2.5},{"s":"ADK1","t":10.96,"v":-1.7},{"s":"ADK1","t":13.8,"v":0.5},{"s":"ADK1","t":18.2,"v":2.2},{"s":"ADK1","t":22.9,"v":0.5},{"s":"ADK1","t":30.9,"v":0.86},{"s":"ADK1","t":1000,"v":0.86},
{"s":"ATPM","t":1.12e-8,"v":1.6},{"s":"ATPM","t":0.1,"v":1.6},{"s":"ATPM","t":0.316,"v":1.55},{"s":"ATPM","t":1,"v":1.45},{"s":"ATPM","t":1.585,"v":1.3},{"s":"ATPM","t":2.512,"v":1.1},{"s":"ATPM","t":3.981,"v":0.95},{"s":"ATPM","t":6.31,"v":0.9},{"s":"ATPM","t":10,"v":0.95},{"s":"ATPM","t":1000,"v":0.95},
{"s":"DM_nadh","t":1.12e-8,"v":1.5},{"s":"DM_nadh","t":0.1,"v":1.5},{"s":"DM_nadh","t":0.316,"v":1.48},{"s":"DM_nadh","t":1,"v":1.4},{"s":"DM_nadh","t":1.585,"v":1.3},{"s":"DM_nadh","t":2.512,"v":1.1},{"s":"DM_nadh","t":3.981,"v":0.95},{"s":"DM_nadh","t":6.31,"v":0.95},{"s":"DM_nadh","t":10,"v":1},{"s":"DM_nadh","t":1000,"v":1},
{"s":"GTHOr","t":1.12e-8,"v":1},{"s":"GTHOr","t":1000,"v":1},
{"s":"GSHR","t":1.12e-8,"v":0.95},{"s":"GSHR","t":1.585,"v":0.95},{"s":"GSHR","t":2.512,"v":0.9},{"s":"GSHR","t":3.981,"v":0.85},{"s":"GSHR","t":1000,"v":0.85},
{"s":"SK_glc__D_c","t":1.12e-8,"v":1.15},{"s":"SK_glc__D_c","t":0.01,"v":1.15},{"s":"SK_glc__D_c","t":0.1,"v":1.17},{"s":"SK_glc__D_c","t":0.316,"v":1.2},{"s":"SK_glc__D_c","t":1,"v":1.3},{"s":"SK_glc__D_c","t":1.585,"v":1.25},{"s":"SK_glc__D_c","t":2.512,"v":1.1},{"s":"SK_glc__D_c","t":3.981,"v":0.95},{"s":"SK_glc__D_c","t":6.31,"v":0.95},{"s":"SK_glc__D_c","t":10,"v":1},{"s":"SK_glc__D_c","t":1000,"v":1},
{"s":"SK_pyr_c","t":1.12e-8,"v":1},{"s":"SK_pyr_c","t":0.316,"v":1},{"s":"SK_pyr_c","t":1,"v":1.05},{"s":"SK_pyr_c","t":1.585,"v":1.05},{"s":"SK_pyr_c","t":2.512,"v":1},{"s":"SK_pyr_c","t":3.981,"v":0.9},{"s":"SK_pyr_c","t":6.31,"v":0.9},{"s":"SK_pyr_c","t":10,"v":1},{"s":"SK_pyr_c","t":1000,"v":1},
{"s":"SK_lac__L_c","t":1.12e-8,"v":1.1},{"s":"SK_lac__L_c","t":0.1,"v":1.1},{"s":"SK_lac__L_c","t":0.316,"v":1.12},{"s":"SK_lac__L_c","t":1,"v":1.2},{"s":"SK_lac__L_c","t":1.585,"v":1.25},{"s":"SK_lac__L_c","t":2.512,"v":1.1},{"s":"SK_lac__L_c","t":3.981,"v":0.9},{"s":"SK_lac__L_c","t":6.31,"v":0.85},{"s":"SK_lac__L_c","t":10,"v":1},{"s":"SK_lac__L_c","t":1000,"v":1},
{"s":"SK_ade_c","t":1.12e-8,"v":1},{"s":"SK_ade_c","t":1000,"v":1},
{"s":"SK_adn_c","t":1.12e-8,"v":0.95},{"s":"SK_adn_c","t":0.001,"v":0.95},{"s":"SK_adn_c","t":0.005,"v":0.85},{"s":"SK_adn_c","t":0.0126,"v":0.5},{"s":"SK_adn_c","t":0.0316,"v":-0.5},{"s":"SK_adn_c","t":0.06,"v":-2.2},{"s":"SK_adn_c","t":0.1,"v":-4},{"s":"SK_adn_c","t":0.19,"v":-6.5},{"s":"SK_adn_c","t":0.3,"v":-10},{"s":"SK_adn_c","t":0.47,"v":-14.1},{"s":"SK_adn_c","t":0.86,"v":-21.3},{"s":"SK_adn_c","t":1.43,"v":-24},{"s":"SK_adn_c","t":2.0,"v":-21.5},{"s":"SK_adn_c","t":2.52,"v":-17},{"s":"SK_adn_c","t":3.3,"v":-9.3},{"s":"SK_adn_c","t":4.33,"v":-2.2},{"s":"SK_adn_c","t":5.65,"v":2.5},{"s":"SK_adn_c","t":7.4,"v":4.2},{"s":"SK_adn_c","t":9.7,"v":2},{"s":"SK_adn_c","t":12.7,"v":-0.6},{"s":"SK_adn_c","t":16.6,"v":0.8},{"s":"SK_adn_c","t":20,"v":1.4},{"s":"SK_adn_c","t":31,"v":1},{"s":"SK_adn_c","t":1000,"v":0.95},
{"s":"SK_ins_c","t":1.12e-8,"v":1},{"s":"SK_ins_c","t":0.1,"v":1},{"s":"SK_ins_c","t":0.316,"v":1.05},{"s":"SK_ins_c","t":1,"v":1.2},{"s":"SK_ins_c","t":1.585,"v":1.3},{"s":"SK_ins_c","t":2.512,"v":1.2},{"s":"SK_ins_c","t":3.981,"v":1},{"s":"SK_ins_c","t":6.31,"v":0.9},{"s":"SK_ins_c","t":10,"v":1},{"s":"SK_ins_c","t":1000,"v":1},
{"s":"SK_hxan_c","t":1.12e-8,"v":1},{"s":"SK_hxan_c","t":0.1,"v":1},{"s":"SK_hxan_c","t":0.316,"v":1.04},{"s":"SK_hxan_c","t":1,"v":1.15},{"s":"SK_hxan_c","t":1.585,"v":1.25},{"s":"SK_hxan_c","t":2.512,"v":1.2},{"s":"SK_hxan_c","t":3.981,"v":1.05},{"s":"SK_hxan_c","t":6.31,"v":0.9},{"s":"SK_hxan_c","t":10,"v":1},{"s":"SK_hxan_c","t":1000,"v":1},
{"s":"SK_h_c","t":1.12e-8,"v":1.15},{"s":"SK_h_c","t":1e-6,"v":1.15},{"s":"SK_h_c","t":1e-5,"v":1.22},{"s":"SK_h_c","t":0.0001,"v":1.3},{"s":"SK_h_c","t":0.01,"v":1.33},{"s":"SK_h_c","t":0.1,"v":1.35},{"s":"SK_h_c","t":0.5,"v":1.4},{"s":"SK_h_c","t":1,"v":1.35},{"s":"SK_h_c","t":2.512,"v":1},{"s":"SK_h_c","t":3.981,"v":0.8},{"s":"SK_h_c","t":6.31,"v":0.9},{"s":"SK_h_c","t":10,"v":1},{"s":"SK_h_c","t":1000,"v":1},
{"s":"SK_h2o_c","t":1.12e-8,"v":1.25},{"s":"SK_h2o_c","t":5e-7,"v":1.3},{"s":"SK_h2o_c","t":2e-6,"v":1.6},{"s":"SK_h2o_c","t":4e-6,"v":2.2},{"s":"SK_h2o_c","t":7.4e-6,"v":2.9},{"s":"SK_h2o_c","t":1.3e-5,"v":3.7},{"s":"SK_h2o_c","t":1.8e-5,"v":4.1},{"s":"SK_h2o_c","t":3.3e-5,"v":4.5},{"s":"SK_h2o_c","t":0.0001,"v":4.62},{"s":"SK_h2o_c","t":0.001,"v":4.6},{"s":"SK_h2o_c","t":0.01,"v":4.55},{"s":"SK_h2o_c","t":0.0316,"v":4.4},{"s":"SK_h2o_c","t":0.1,"v":4.1},{"s":"SK_h2o_c","t":0.2,"v":4.02},{"s":"SK_h2o_c","t":0.5,"v":4.08},{"s":"SK_h2o_c","t":0.7,"v":4.05},{"s":"SK_h2o_c","t":1,"v":3.7},{"s":"SK_h2o_c","t":1.6,"v":2.5},{"s":"SK_h2o_c","t":2.5,"v":1.6},{"s":"SK_h2o_c","t":3.98,"v":1},{"s":"SK_h2o_c","t":6.3,"v":0.8},{"s":"SK_h2o_c","t":10,"v":1},{"s":"SK_h2o_c","t":1000,"v":1},
{"s":"SK_co2_c","t":1.12e-8,"v":1.1},{"s":"SK_co2_c","t":0.01,"v":1.1},{"s":"SK_co2_c","t":0.1,"v":1.2},{"s":"SK_co2_c","t":0.316,"v":1.5},{"s":"SK_co2_c","t":1,"v":2},{"s":"SK_co2_c","t":1.585,"v":2.4},{"s":"SK_co2_c","t":2.512,"v":2.2},{"s":"SK_co2_c","t":3.981,"v":1.3},{"s":"SK_co2_c","t":6.31,"v":0.8},{"s":"SK_co2_c","t":10,"v":1},{"s":"SK_co2_c","t":15.85,"v":1.05},{"s":"SK_co2_c","t":1000,"v":1.05},
{"s":"SK_nh3_c","t":1.12e-8,"v":1.1},{"s":"SK_nh3_c","t":0.01,"v":1.1},{"s":"SK_nh3_c","t":0.1,"v":1.15},{"s":"SK_nh3_c","t":0.316,"v":1.35},{"s":"SK_nh3_c","t":1,"v":1.8},{"s":"SK_nh3_c","t":1.585,"v":2},{"s":"SK_nh3_c","t":2.512,"v":2},{"s":"SK_nh3_c","t":3.981,"v":1.4},{"s":"SK_nh3_c","t":6.31,"v":0.85},{"s":"SK_nh3_c","t":10,"v":1},{"s":"SK_nh3_c","t":15.85,"v":1.05},{"s":"SK_nh3_c","t":1000,"v":1.05}
]
},
"spacing": 62,
"bounds": "flush",
"vconcat": [
{
  "title": "Concentration Profile",
  "width": 294, "height": 221,
  "data": {"name": "conc"},
  "mark": {"type": "line", "strokeWidth": 1.5, "interpolate": "monotone", "clip": true},
  "encoding": {
    "x": {"field": "t", "type": "quantitative", "scale": {"type": "log", "domain": [1.12e-8, 3548], "nice": false}, "axis": {"title": "Time [hr]", "values": [1e-6, 1e-4, 1e-2, 1, 100], "labelExpr": "datum.value < 1e-5 ? '10⁻⁶' : datum.value < 1e-3 ? '10⁻⁴' : datum.value < 0.1 ? '10⁻²' : datum.value < 10 ? '10⁰' : '10²'"}},
    "y": {"field": "v", "type": "quantitative", "scale": {"domain": [0.19, 2.895], "nice": false, "zero": false}, "axis": {"title": "Concentration [mM]", "values": [0.5, 1, 1.5, 2, 2.5], "format": ".1f"}},
    "color": {"field": "s", "type": "nominal",
      "scale": {
        "domain": ["glc__D_c","ru5p__D_c","nadh_c","g6p_c","xu5p__D_c","amp_c","f6p_c","r5p_c","adp_c","fdp_c","s7p_c","atp_c","dhap_c","e4p_c","nadp_c","g3p_c","ade_c","nadph_c","13dpg_c","adn_c","gthrd_c","3pg_c","imp_c","gthox_c","2pg_c","ins_c","pi_c","pep_c","hxan_c","h_c","pyr_c","r1p_c","h2o_c","lac__L_c","prpp_c","co2_c","6pgl_c","nad_c","nh3_c","6pgc_c"],
        "range": ["#1f77b4","#7f7f7f","#cedb9c","#aec7e8","#c7c7c7","#8c6d31","#ff7f0e","#bcbd22","#bd9e39","#ffbb78","#dbdb8d","#e7ba52","#2ca02c","#17becf","#e7cb94","#98df8a","#9edae5","#843c39","#d62728","#393b79","#ad494a","#ff9896","#5254a3","#d6616b","#9467bd","#6b6ecf","#e7969c","#c5b0d5","#9c9ede","#7b4173","#8c564b","#637939","#a55194","#c49c94","#8ca252","#ce6dbd","#e377c2","#b5cf6b","#de9ed6","#f7b6d2"]
      },
      "legend": {"title": null, "orient": "none", "legendX": 341, "legendY": -8, "columns": 3, "direction": "horizontal", "symbolSize": 400, "labelOffset": 8}
    }
  }
},
{
  "title": "Flux Profile",
  "width": 294, "height": 221,
  "data": {"name": "flux"},
  "mark": {"type": "line", "strokeWidth": 1.5, "interpolate": "monotone", "clip": true},
  "encoding": {
    "x": {"field": "t", "type": "quantitative", "scale": {"type": "log", "domain": [1.12e-8, 3548], "nice": false}, "axis": {"title": "Time [hr]", "values": [1e-6, 1e-4, 1e-2, 1, 100], "labelExpr": "datum.value < 1e-5 ? '10⁻⁶' : datum.value < 1e-3 ? '10⁻⁴' : datum.value < 0.1 ? '10⁻²' : datum.value < 10 ? '10⁰' : '10²'"}},
    "y": {"field": "v", "type": "quantitative", "scale": {"domain": [-25.55, 6.1], "nice": false, "zero": false}, "axis": {"title": "Flux [mM/hr]", "values": [-25, -20, -15, -10, -5, 0, 5], "format": "d"}},
    "color": {"field": "s", "type": "nominal",
      "scale": {
        "domain": ["HEX1","RPI","DM_nadh","PGI","TKT1","GTHOr","PFK","TKT2","GSHR","FBA","TALA","SK_glc__D_c","TPI","ADNK1","SK_pyr_c","GAPD","NTD7","SK_lac__L_c","PGK","ADA","SK_ade_c","PGM","AMPDA","SK_adn_c","ENO","NTD11","SK_ins_c","PYK","PUNP5","SK_hxan_c","LDH_L","PPM","SK_h_c","G6PDH2r","PRPPS","SK_h2o_c","PGL","ADPT","SK_co2_c","GND","ADK1","SK_nh3_c","RPE","ATPM"],
        "range": ["#1f77b4","#c7c7c7","#e7ba52","#aec7e8","#bcbd22","#e7cb94","#ff7f0e","#dbdb8d","#843c39","#ffbb78","#17becf","#ad494a","#2ca02c","#9edae5","#d6616b","#98df8a","#393b79","#e7969c","#d62728","#5254a3","#7b4173","#ff9896","#6b6ecf","#a55194","#9467bd","#9c9ede","#ce6dbd","#c5b0d5","#637939","#de9ed6","#8c564b","#8ca252","#3182bd","#c49c94","#b5cf6b","#6baed6","#e377c2","#cedb9c","#9ecae1","#f7b6d2","#8c6d31","#c6dbef","#7f7f7f","#bd9e39"]
      },
      "legend": {"title": null, "orient": "none", "legendX": 341, "legendY": -8, "columns": 3, "direction": "horizontal", "symbolSize": 300, "labelOffset": 11}
    }
  }
}
],
"resolve": {"scale": {"color": "independent", "x": "independent", "y": "independent"}, "legend": {"color": "independent"}}
}
